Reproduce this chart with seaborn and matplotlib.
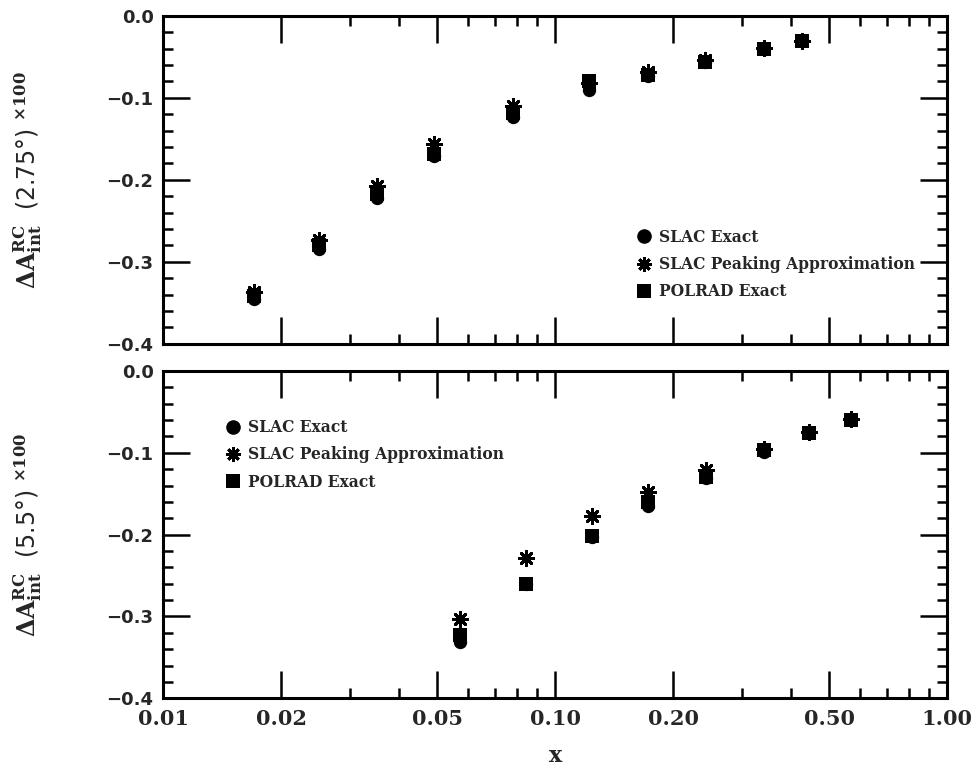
import numpy as np
import pandas as pd
import matplotlib
matplotlib.use("Agg")
import matplotlib.pyplot as plt
import seaborn as sns
from matplotlib.ticker import FixedLocator, FixedFormatter
from matplotlib.lines import Line2D

# ---------------- data ----------------
methods = ["SLAC Exact", "SLAC Peaking Approximation", "POLRAD Exact"]

# 2.75 degree spectrometer
x_top = [0.0170, 0.0250, 0.0351, 0.0490, 0.0780, 0.122, 0.172, 0.241, 0.341, 0.426]
slac_exact_top = [-0.345, -0.285, -0.222, -0.171, -0.123, -0.091, -0.073, -0.056, -0.040, -0.031]
slac_peak_top = [-0.337, -0.273, -0.208, -0.157, -0.110, -0.082, -0.069, -0.054, -0.039, -0.031]
polrad_top = [-0.342, -0.280, -0.218, -0.169, -0.119, -0.080, -0.072, -0.056, -0.040, -0.031]

# 5.5 degree spectrometer
x_bot = [0.0571, 0.0842, 0.124, 0.172, 0.242, 0.341, 0.444, 0.567]
slac_exact_bot = [-0.331, -0.260, -0.203, -0.165, -0.131, -0.099, -0.076, -0.060]
slac_peak_bot = [-0.303, -0.228, -0.177, -0.148, -0.121, -0.095, -0.075, -0.059]
polrad_bot = [-0.323, -0.260, -0.202, -0.160, -0.129, -0.097, -0.076, -0.060]

x_major = [0.01, 0.02, 0.05, 0.10, 0.20, 0.50, 1.00]
x_major_labels = ["0.01", "0.02", "0.05", "0.10", "0.20", "0.50", "1.00"]
x_minor = [0.03, 0.04, 0.06, 0.07, 0.08, 0.09, 0.3, 0.4, 0.6, 0.7, 0.8, 0.9]
y_major = [-0.4, -0.3, -0.2, -0.1, 0.0]
y_major_labels = ["\u22120.4", "\u22120.3", "\u22120.2", "\u22120.1", "0.0"]
y_minor = [-0.38, -0.36, -0.34, -0.32, -0.28, -0.26, -0.24, -0.22,
           -0.18, -0.16, -0.14, -0.12, -0.08, -0.06, -0.04, -0.02]

ylabels = [r"$\mathbf{\Delta A}^{\mathbf{RC}}_{\mathbf{int}}$  (2.75°) $^{\mathbf{\times 100}}$",
           r"$\mathbf{\Delta A}^{\mathbf{RC}}_{\mathbf{int}}$  (5.5°) $^{\mathbf{\times 100}}$"]

def long_frame(x, a, b, c):
    return pd.DataFrame({
        "x": list(x) * 3,
        "y": list(a) + list(b) + list(c),
        "method": [methods[0]] * len(x) + [methods[1]] * len(x) + [methods[2]] * len(x),
    })

df_top = long_frame(x_top, slac_exact_top, slac_peak_top, polrad_top)
df_bot = long_frame(x_bot, slac_exact_bot, slac_peak_bot, polrad_bot)

# ---------------- style ----------------
sns.set_style("ticks")
plt.rcParams["font.family"] = ["DejaVu Sans"]
plt.rcParams["mathtext.fontset"] = "dejavuserif"

marker_kw = {
    methods[0]: dict(marker="o", s=92, linewidth=0),
    methods[1]: dict(marker=(8, 2, 0), s=105, linewidth=2.1),
    methods[2]: dict(marker="s", s=92, linewidth=0),
}

fig = plt.figure(figsize=(9.79, 7.71), dpi=100)
ax1 = fig.add_axes([0.1668, 0.5542, 0.8008, 0.4254])
ax2 = fig.add_axes([0.1668, 0.0943, 0.8008, 0.4245])

legend_pos = [(0.603, 0.350), (0.079, 0.853)]

for i, (ax, df) in enumerate([(ax1, df_top), (ax2, df_bot)]):
    for m in methods:
        sub = df[df["method"] == m]
        sns.scatterplot(data=sub, x="x", y="y", color="black", edgecolor="black",
                        ax=ax, legend=False, zorder=3, **marker_kw[m])
    ax.set_xscale("log")
    ax.set_xlim(0.01, 1.0)
    ax.set_ylim(-0.4, 0.0)
    ax.xaxis.set_major_locator(FixedLocator(x_major))
    ax.xaxis.set_minor_locator(FixedLocator(x_minor))
    ax.yaxis.set_major_locator(FixedLocator(y_major))
    ax.yaxis.set_minor_locator(FixedLocator(y_minor))
    ax.yaxis.set_major_formatter(FixedFormatter(y_major_labels))
    if i == 1:
        ax.xaxis.set_major_formatter(FixedFormatter(x_major_labels))
    else:
        ax.xaxis.set_major_formatter(FixedFormatter([""] * len(x_major)))
    ax.xaxis.set_minor_formatter(FixedFormatter([""] * len(x_minor)))
    ax.tick_params(which="both", direction="in", top=True, right=True, width=1.8, color="black")
    ax.tick_params(which="major", length=19.5)
    ax.tick_params(which="minor", length=7)
    ax.tick_params(axis="y", which="major", labelsize=13, pad=7)
    ax.tick_params(axis="x", which="major", labelsize=15, pad=8)
    for lab in ax.get_yticklabels():
        lab.set_fontweight("bold")
    for lab in ax.get_xticklabels():
        lab.set_fontweight("bold")
        lab.set_family("DejaVu Serif")
    for sp in ax.spines.values():
        sp.set_linewidth(2.2)
        sp.set_color("black")
    ax.set_ylabel(ylabels[i], fontsize=17, fontweight="normal")
    ax.yaxis.set_label_coords(-0.152, 0.5)
    if i == 1:
        ax.set_xlabel("x", fontsize=16, fontweight="bold", family="DejaVu Serif")
        ax.xaxis.set_label_coords(0.5, -0.175)
        ax.xaxis.label.set_va("center")
    else:
        ax.set_xlabel("")

    handles = [
        Line2D([], [], marker="o", color="black", ls="", ms=10.5, markeredgewidth=0),
        Line2D([], [], marker=(8, 2, 0), color="black", ls="", ms=10.5, markeredgewidth=2.1),
        Line2D([], [], marker="s", color="black", ls="", ms=10.5, markeredgewidth=0),
    ]
    ax.legend(handles, methods, loc="upper left", bbox_to_anchor=legend_pos[i],
              frameon=False, borderaxespad=0, borderpad=0, handlelength=1.0,
              handletextpad=0.45, labelspacing=0.66,
              prop=dict(family="DejaVu Serif", weight="bold", size=11.2))

fig.savefig("out.png", dpi=100, facecolor="white")
